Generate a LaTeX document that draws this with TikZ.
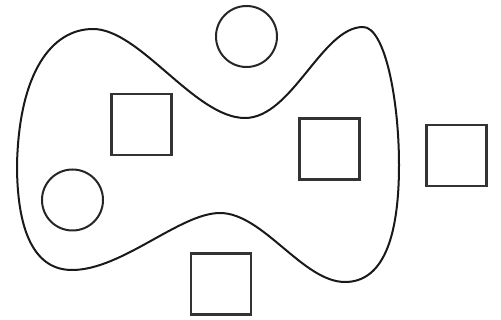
\documentclass[tikz,border=0pt]{standalone}
\begin{document}
\begin{tikzpicture}[x=1pt,y=-1pt,
  sq/.style={draw=black!80, line width=2.2pt, minimum width=60pt, minimum height=61pt, inner sep=0pt},
  rnd/.style={draw=black!85, circle, line width=2pt, minimum size=61pt, inner sep=0pt},
  blob/.style={draw=black!90, line width=2pt}]
\useasboundingbox (0,0) rectangle (501,320);
\node[rnd] (ctop) at (246.5,36.5) {};
\node[rnd] (cleft) at (72.5,200) {};
\node[sq] (s1) at (141.5,124.5) {};
\node[sq] (s2) at (329.5,149) {};
\node[sq] (s3) at (456.5,155.5) {};
\node[sq] (s4) at (221,284) {};
\coordinate (p1) at (17,165);
\coordinate (p2) at (93,29);
\coordinate (p3) at (245,118);
\coordinate (p4) at (363,27);
\coordinate (p5) at (399,165);
\coordinate (p6) at (345,282);
\coordinate (p7) at (220,213);
\coordinate (p8) at (72,270);
\draw[blob] (p1) .. controls (19,72) and (52,29) .. (p2)
  .. controls (140,29) and (195,118) .. (p3)
  .. controls (292,118) and (322,27) .. (p4)
  .. controls (385,27) and (399,100) .. (p5)
  .. controls (399,240) and (382,282) .. (p6)
  .. controls (303,282) and (263,213) .. (p7)
  .. controls (180,213) and (122,270) .. (p8)
  .. controls (30,270) and (17,222) .. cycle;
\end{tikzpicture}
\end{document}
